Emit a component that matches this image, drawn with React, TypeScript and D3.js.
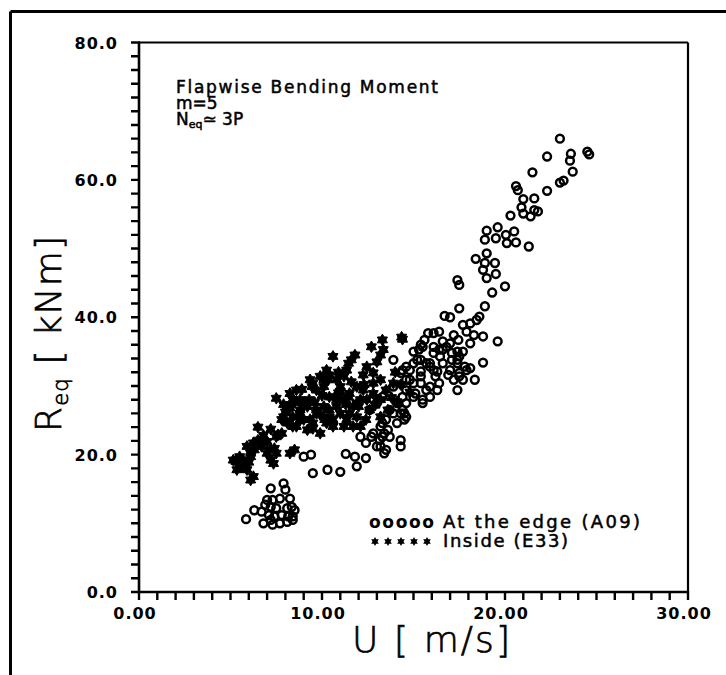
import React from 'react';
import * as d3 from 'd3';

// "At the edge (A09)" – circles
const edgeU = [
  23.0, 22.3, 23.6, 23.55, 24.5, 24.6, 21.5, 23.7, 23.0, 23.2, 22.3, 20.6, 20.7, 21.0, 21.6, 20.9, 21.6, 21.4, 21.0, 21.8,
  20.3, 19.6, 19.0, 18.9, 19.5, 20.05, 20.5, 20.1, 20.6, 21.3, 19.0, 19.45, 18.9, 18.8, 19.5, 19.0, 20.0, 19.3, 18.4, 17.4,
  17.5, 18.9, 17.5, 16.7, 17.0, 18.6, 18.45, 18.1, 17.7, 19.6, 18.8, 18.1, 18.3, 17.9, 17.2, 17.45, 16.4, 16.1, 15.8, 15.5,
  15.3, 15.0, 16.4, 16.45, 16.8, 17.1, 17.5, 17.8, 18.1, 17.5, 18.35, 17.4, 18.8, 13.9, 14.3, 14.6, 15.0, 15.4, 15.9, 15.6,
  16.1, 16.6, 17.0, 17.4, 15.2, 15.7, 16.1, 16.6, 17.0, 17.4, 17.5, 17.2, 17.7, 14.6, 15.0, 15.4, 15.7, 15.9, 15.5, 15.0,
  14.6, 14.5, 14.5, 16.2, 16.4, 14.8, 15.9, 16.3, 14.4, 14.1, 13.7, 14.3, 14.6, 14.1, 13.5, 13.2, 12.8, 13.4, 13.7, 14.3,
  13.2, 14.3, 12.1, 12.4, 9.0, 9.4, 9.5, 10.3, 11.0, 11.3, 11.8, 12.4, 11.9, 13.4, 13.3, 12.7, 5.85, 6.3, 6.7, 6.8,
  7.2, 7.9, 8.0, 7.0, 7.3, 7.7, 8.25, 6.9, 7.2, 7.5, 8.1, 8.35, 8.5, 7.1, 7.4, 7.8, 8.15, 8.4, 7.3, 7.7,
  8.1, 8.4, 7.2, 15.4, 16.6, 16.1, 17.1, 17.7, 17.4, 17.9, 16.9, 16.3, 15.9, 15.4, 14.4, 14.8, 15.4, 15.5, 15.1, 14.6,
  13.9, 13.3, 13.0, 12.6, 14.4, 13.9, 13.6, 13.15, 13.0, 13.5, 13.3,
];
const edgeR = [
  66.0, 63.4, 63.8, 62.8, 64.1, 63.7, 61.1, 61.2, 59.6, 59.9, 58.4, 59.1, 58.5, 57.2, 57.3, 56.0, 55.6, 54.7, 55.1, 55.4,
  54.8, 53.1, 52.6, 51.3, 51.5, 52.0, 52.5, 50.8, 50.9, 50.3, 49.3, 47.9, 47.9, 46.9, 46.3, 45.7, 44.5, 43.6, 48.5, 45.4,
  44.7, 41.6, 41.3, 40.2, 40.0, 40.1, 39.6, 39.1, 38.9, 36.5, 37.2, 36.2, 37.4, 37.9, 37.4, 36.7, 37.9, 37.7, 37.7, 35.7,
  35.3, 35.0, 35.3, 34.3, 35.7, 33.8, 34.3, 32.8, 32.6, 31.9, 30.9, 29.4, 33.4, 33.8, 31.9, 32.8, 33.3, 33.8, 33.3, 36.7,
  35.7, 36.5, 36.2, 35.0, 33.8, 33.3, 32.3, 33.3, 32.3, 33.8, 31.4, 30.9, 30.9, 30.9, 30.4, 31.4, 29.4, 28.4, 27.5, 28.4,
  27.5, 26.0, 25.1, 31.4, 30.4, 32.3, 29.9, 29.4, 28.4, 27.5, 26.5, 26.0, 25.5, 24.6, 25.1, 24.1, 23.1, 23.1, 22.6, 22.1,
  21.2, 21.2, 22.6, 21.7, 19.7, 20.0, 17.3, 17.8, 17.5, 20.1, 19.7, 19.5, 18.3, 20.2, 22.6, 22.6, 10.6, 11.9, 11.7, 10.0,
  15.1, 15.8, 14.9, 13.4, 13.4, 13.6, 13.6, 12.7, 12.4, 12.2, 12.2, 12.4, 11.9, 11.2, 11.0, 11.2, 11.0, 11.0, 9.8, 10.0,
  10.2, 10.5, 10.5, 36.0, 35.3, 34.8, 34.8, 35.0, 33.3, 32.3, 31.6, 32.1, 32.8, 32.1, 32.3, 30.9, 30.4, 28.0, 28.9, 29.4,
  29.9, 28.4, 27.5, 26.5, 26.5, 26.0, 23.6, 22.1, 21.2, 20.7, 24.6,
];

// "Inside (E33)" – stars
const insideU = [
  7.5, 6.5, 7.2, 7.6, 6.6, 7.0, 6.3, 6.1, 5.7, 5.3, 7.0, 7.4, 7.2, 8.25, 8.6, 8.8, 8.25, 7.9, 7.8, 8.4,
  8.8, 9.2, 9.0, 8.6, 9.2, 9.5, 9.7, 9.3, 9.7, 9.5, 10.1, 10.25, 10.4, 10.15, 9.9, 8.25, 8.5, 14.4, 13.3, 12.7,
  13.35, 13.2, 13.0, 11.8, 11.6, 11.45, 11.35, 11.2, 10.6, 12.25, 11.9, 12.25, 12.1, 11.7, 11.5, 11.0, 10.8, 10.35, 10.1, 10.7,
  11.2, 10.8, 10.4, 11.0, 10.6, 10.25, 10.1, 12.8, 13.2, 13.5, 13.9, 13.2, 12.6, 13.2, 12.4, 11.9, 11.5, 11.35, 11.7, 12.1,
  14.1, 10.4, 9.35, 9.45, 8.2, 8.4, 8.8, 9.7, 9.9, 9.35, 8.8, 8.4, 8.1, 10.4, 10.6, 11.2, 9.5, 10.8, 11.0, 11.45,
  11.9, 12.45, 13.0, 12.8, 12.8, 12.45, 5.15, 5.5, 5.9, 6.25, 6.5, 6.7, 7.15, 6.1, 5.7, 5.35, 5.9, 6.25, 6.1, 7.5,
  7.35, 7.5, 7.8, 14.35, 14.0, 14.3, 14.8, 13.8, 13.6, 8.0, 9.0, 9.6, 10.0, 10.9, 11.3, 12.0, 12.9, 8.9, 9.9, 10.9,
  11.6, 12.3, 7.9, 8.5, 6.8, 5.6, 6.0,
];
const insideR = [
  28.2, 24.0, 23.7, 22.9, 21.7, 21.9, 20.7, 20.2, 19.2, 19.0, 20.2, 20.9, 19.2, 28.9, 29.4, 28.0, 26.8, 25.5, 25.1, 25.5,
  26.0, 27.0, 25.1, 24.1, 23.6, 24.6, 26.0, 28.0, 29.4, 30.4, 30.9, 32.3, 28.4, 25.1, 23.1, 20.2, 20.7, 36.8, 36.7, 35.7,
  35.3, 34.5, 33.5, 34.5, 33.8, 33.3, 32.3, 31.4, 34.3, 31.6, 29.9, 29.4, 28.0, 27.0, 28.9, 29.9, 30.9, 30.9, 29.9, 28.4,
  28.0, 27.0, 26.5, 26.0, 25.1, 24.6, 27.0, 28.9, 28.0, 29.4, 30.4, 30.9, 26.5, 25.5, 25.1, 25.5, 26.0, 25.1, 24.1, 24.1,
  27.7, 31.6, 30.9, 29.9, 27.0, 28.0, 26.5, 26.5, 25.8, 25.1, 25.1, 24.1, 24.6, 25.5, 24.1, 24.1, 23.8, 28.0, 29.2, 28.4,
  27.5, 28.0, 28.0, 30.4, 31.9, 32.8, 19.2, 19.7, 21.2, 21.7, 22.1, 21.2, 20.7, 19.7, 18.7, 17.8, 17.8, 16.8, 16.3, 20.2,
  18.7, 22.6, 23.1, 37.1, 32.0, 30.2, 29.1, 28.3, 26.5, 26.2, 27.5, 27.6, 28.6, 29.0, 27.3, 27.0, 27.2, 29.5, 31.4, 32.0,
  30.6, 30.2, 27.3, 27.6, 22.8, 18.3, 18.9,
];

const xTickValues = [0, 10, 20, 30];
const xTickLabels = ['0.00', '10.00', '20.00', '30.00'];
const yTickValues = [0, 20, 40, 60, 80];
const yTickLabels = ['0.0', '20.0', '40.0', '60.0', '80.0'];
const legendLabels = ['At the edge (A09)', 'Inside (E33)'];

const starPoints = (ro: number, ri: number): [number, number][] =>
  d3.range(12).map((i) => {
    const a = (i * Math.PI) / 6 - Math.PI / 2;
    const r = i % 2 === 0 ? ro : ri;
    return [r * Math.cos(a), r * Math.sin(a)];
  });

export default function App() {
  const W = 726;
  const H = 675;
  const x = d3.scaleLinear().domain([0, 30]).range([139, 688]);
  const y = d3.scaleLinear().domain([0, 80]).range([592, 42.5]);
  const starPath = (d3.line()(starPoints(5.8, 3.5)) || '') + 'Z';
  const smallStar = (d3.line()(starPoints(4.4, 2.5)) || '') + 'Z';
  const xMinor = x.ticks(30);
  const yMinor = y.ticks(40);
  const x0 = x(0);
  const y0 = y(0);
  const xTickPath = xMinor.map((v) => `M${x(v)},${y0 - 1}V${y0 + 8}`).join('');
  const yTickPath = yMinor.map((v) => `M${x0 - 8},${y(v)}H${x0 + 1}`).join('');
  const tickFont = { fontFamily: 'DejaVu Sans', fontWeight: 'bold', fontSize: 16, letterSpacing: 1 } as const;
  const textFont = { fontFamily: 'DejaVu Sans', fontSize: 17, stroke: '#000', strokeWidth: 0.5 } as const;
  const titleFont = { fontFamily: 'DejaVu Sans', fontWeight: 200, fontSize: 36, stroke: '#000', strokeWidth: 0.7 } as const;

  return (
    <svg width={W} height={H} style={{ position: 'absolute', left: 0, top: 0, background: '#fff' }}>
      <rect x={0} y={0} width={W} height={H} fill="#fff" />
      {/* outer frame (left & top) */}
      <line x1={10.5} y1={11.5} x2={W} y2={11.5} stroke="#000" strokeWidth={3} />
      <line x1={10.5} y1={11.5} x2={10.5} y2={H} stroke="#000" strokeWidth={3} />

      {/* plot frame */}
      <line x1={x(0)} y1={y(80)} x2={x(30)} y2={y(80)} stroke="#000" strokeWidth={2} />
      <line x1={x(30)} y1={y(80)} x2={x(30)} y2={y(0)} stroke="#000" strokeWidth={2.2} />
      <line x1={x(0)} y1={y(0)} x2={x(30)} y2={y(0)} stroke="#000" strokeWidth={2.6} />
      <line x1={x(0)} y1={y(0)} x2={x(0)} y2={y(80)} stroke="#000" strokeWidth={2.6} />

      {/* ticks */}
      <path d={xTickPath} fill="none" stroke="#000" strokeWidth={2.4} />
      <path d={yTickPath} fill="none" stroke="#000" strokeWidth={2.4} />

      {xTickValues.map((v, i) => (
        <text key={'xt' + v} x={x(v) - 4} y={619} textAnchor="middle" {...tickFont}>
          {xTickLabels[i]}
        </text>
      ))}
      {yTickValues.map((v, i) => (
        <text key={'yt' + v} x={118} y={y(v) + 6} textAnchor="end" {...tickFont}>
          {yTickLabels[i]}
        </text>
      ))}

      {/* axis titles */}
      <text x={352} y={652} {...titleFont} textLength={158} lengthAdjust="spacing">
        U [ m/s]
      </text>
      <text transform="translate(61,432) rotate(-90)" {...titleFont} textLength={196} lengthAdjust="spacing">
        R<tspan fontSize={21} dy={7}>eq</tspan>
        <tspan dy={-7}> [ kNm]</tspan>
      </text>

      {/* annotation */}
      <text x={176} y={93} {...textFont} textLength={262} lengthAdjust="spacing">
        Flapwise Bending Moment
      </text>
      <text x={176} y={109} {...textFont}>m=5</text>
      <text x={176} y={125} {...textFont}>
        N<tspan fontSize={11} dy={3}>eq</tspan>
        <tspan dy={-3}>≃ 3P</tspan>
      </text>

      {/* data */}
      <g>
        {edgeU.map((u, i) => (
          <circle key={'c' + i} cx={x(u)} cy={y(edgeR[i])} r={3.9} fill="none" stroke="#000" strokeWidth={2.5} />
        ))}
      </g>
      <g>
        {insideU.map((u, i) => (
          <path key={'s' + i} d={starPath} transform={`translate(${x(u)},${y(insideR[i])})`} fill="#000" stroke="#000" strokeWidth={1} />
        ))}
      </g>

      {/* legend */}
      <text x={369} y={528} fontFamily="DejaVu Sans" fontWeight="bold" fontSize={17} textLength={65} lengthAdjust="spacing">
        ooooo
      </text>
      <text x={443} y={528} {...textFont} fontSize={18} textLength={197} lengthAdjust="spacing">
        {legendLabels[0]}
      </text>
      {d3.range(5).map((k) => (
        <path key={'ls' + k} d={smallStar} transform={`translate(${375 + k * 13},541.5)`} fill="#000" />
      ))}
      <text x={443} y={547} {...textFont} fontSize={18} textLength={125} lengthAdjust="spacing">
        {legendLabels[1]}
      </text>
    </svg>
  );
}
